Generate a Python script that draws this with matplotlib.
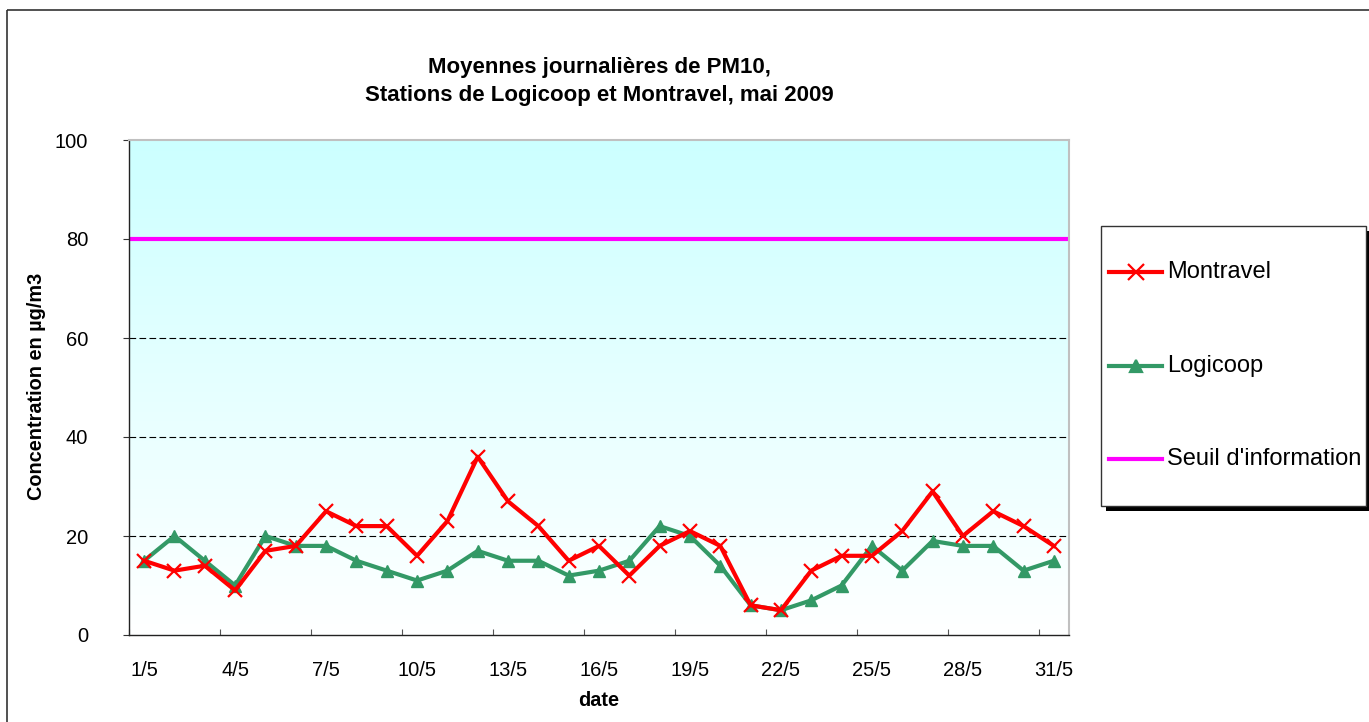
"""Moyennes journalières de PM10 - Logicoop / Montravel, mai 2009."""
import matplotlib
matplotlib.use("Agg")
import matplotlib.pyplot as plt
import numpy as np
from matplotlib.patches import Rectangle
from matplotlib.lines import Line2D

plt.rcParams['font.family'] = ['Liberation Sans', 'DejaVu Sans']

# ---------- data ----------
days = [f"{d}/5" for d in range(1, 32)]
montravel = [15, 13, 14, 9, 17, 18, 25, 22, 22, 16, 23, 36, 27, 22, 15, 18,
             12, 18, 21, 18, 6, 5, 13, 16, 16, 21, 29, 20, 25, 22, 18]
logicoop = [15, 20, 15, 10, 20, 18, 18, 15, 13, 11, 13, 17, 15, 15, 12, 13,
            15, 22, 20, 14, 6, 5, 7, 10, 18, 13, 19, 18, 18, 13, 15]
seuil = 80
y_ticks = [0, 20, 40, 60, 80, 100]

RED = "#FF0000"
GREEN = "#339966"
MAGENTA = "#FF00FF"

W, H = 1369, 722
fig = plt.figure(figsize=(W / 100, H / 100), dpi=100, facecolor="white")

# overlay in pixel coordinates (border, legend, texts)
ov = fig.add_axes([0, 0, 1, 1], zorder=0)
ov.set_xlim(0, W)
ov.set_ylim(H, 0)
ov.axis("off")

# main plot area
L, R, T, B = 129, 1069, 140, 635
ax = fig.add_axes([L / W, (H - B) / H, (R - L) / W, (B - T) / H], zorder=1)
ax.patch.set_visible(False)

x = np.arange(len(days))

# gradient background: light cyan at the top to white at the bottom
grad = np.linspace(0, 1, 256).reshape(-1, 1)
top = np.array([0xCC, 0xFF, 0xFF]) / 255
img = top + (1 - top) * grad[..., None]
ax.imshow(img, extent=[-0.5, len(days) - 0.5, 0, 100], origin="upper",
          aspect="auto", zorder=0)
ax.set_xlim(-0.5, len(days) - 0.5)
ax.set_ylim(0, 100)

for yv in y_ticks[1:-1]:
    ax.axhline(yv, color="black", lw=0.8, ls=(0, (6, 3)), zorder=1)
ax.axhline(seuil, color=MAGENTA, lw=3, zorder=2)

ax.plot(x, montravel, color=RED, lw=3, marker="x", ms=10, mew=1.6, zorder=4)
ax.plot(x, logicoop, color=GREEN, lw=3, marker="^", ms=8.5, zorder=3)

# ticks
ax.set_yticks(y_ticks)
ax.tick_params(axis="y", direction="out", length=4.5, width=0.8, pad=25,
               labelsize=14.5, color="#333333")
ax.set_xticks(np.arange(-0.5, len(days), 3))
ax.set_xticklabels([])
ax.set_xticks(x[::3], minor=True)
ax.set_xticklabels(days[::3], minor=True)
ax.tick_params(axis="x", which="major", direction="in", length=4, width=0.8,
               color="#555555")
ax.tick_params(axis="x", which="minor", length=0, pad=19, labelsize=14.5)

for s in ("left", "bottom"):
    ax.spines[s].set_color("#222222")
    ax.spines[s].set_linewidth(1.0)
for s in ("top", "right"):
    ax.spines[s].set_color("#C0C0C0")
    ax.spines[s].set_linewidth(1.5)

# outer frame
ov.add_patch(Rectangle((7, 10), W, H, fill=False, ec="#333333", lw=1.2))

# titles
ov.text(599, 67, "Moyennes journalières de PM10,", ha="center", va="center",
        fontsize=16, fontweight="bold")
ov.text(599, 96, "Stations de Logicoop et Montravel, mai 2009", ha="center",
        va="center", fontsize=16, fontweight="bold")
ov.text(37, 386, "Concentration en µg/m3", rotation=90, ha="center",
        va="center", fontsize=14.3, fontweight="bold")
ov.text(599, 700, "date", ha="center", va="center", fontsize=14.3,
        fontweight="bold")

# legend with drop shadow
lx0, ly0, lx1, ly1 = 1101, 226, 1366, 506
ov.add_patch(Rectangle((lx0 + 5, ly0 + 5), lx1 - lx0, ly1 - ly0,
                       fc="black", ec="none", zorder=2))
ov.add_patch(Rectangle((lx0, ly0), lx1 - lx0, ly1 - ly0,
                       fc="white", ec="#333333", lw=1, zorder=3))
entries = [("Montravel", RED, "x", 11), ("Logicoop", GREEN, "^", 9),
           ("Seuil d'information", MAGENTA, None, 0)]
for (label, col, mk, ms), ly in zip(entries, [272, 366, 459]):
    ov.add_line(Line2D([1109, 1162], [ly, ly], color=col, lw=3, zorder=4))
    if mk:
        ov.add_line(Line2D([1135.5], [ly], color=col, marker=mk, ms=ms,
                           mew=1.6, ls="none", zorder=5))
    ov.text(1167, ly, label, ha="left", va="center", fontsize=17, zorder=5)

fig.savefig("out.png", dpi=100, facecolor="white")
